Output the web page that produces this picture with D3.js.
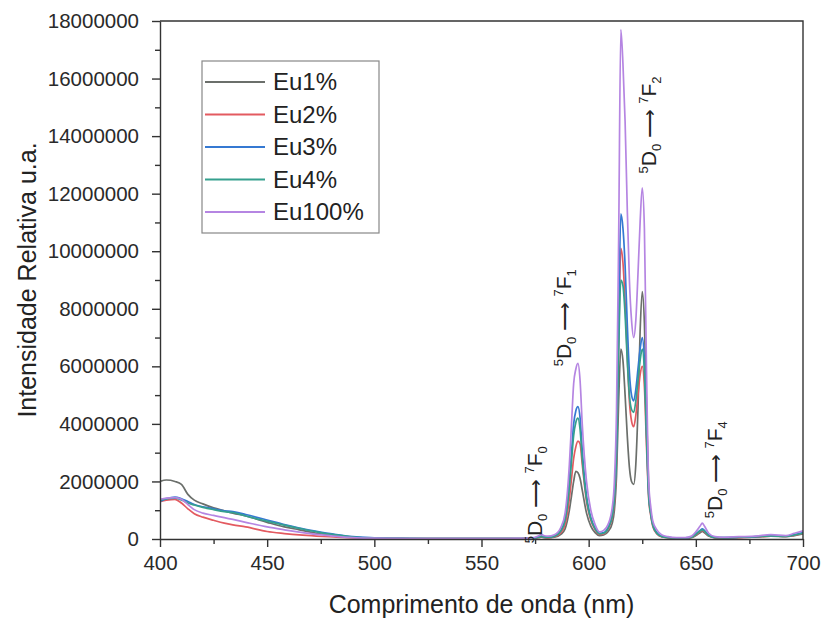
<!DOCTYPE html>
<html>
<head>
<meta charset="utf-8">
<script src="https://cdn.jsdelivr.net/npm/d3@7"></script>
<style>
	body { margin: 0; background: #fff; }
	svg { font-family: 'Liberation Sans', Arial, sans-serif; }
	.tick text { font-size: 20.5px; fill: #2a2a2a; }
	.tick line, .domain { stroke: #333; stroke-width: 1.4; }
</style>
</head>
<body>
<svg id="chart"></svg>
<script>
// wavelength (nm) and intensities (millions of counts)
const wavelength = [400, 403, 407, 410, 413, 416, 420, 425, 430, 434, 440, 450, 458, 465, 473, 481, 490, 500, 510, 525, 540, 555, 565,
	572, 575, 577, 578, 579, 581, 584, 587, 589, 591, 592, 593, 594, 595, 596, 597, 599, 601, 603, 605, 607, 609, 611, 612, 613, 614,
	615, 616, 617, 618, 619, 620, 621, 622, 623, 624, 625, 626, 627, 628, 629, 630, 632, 634, 637, 641, 645, 648, 650, 652, 653, 654,
	656, 659, 663, 670, 678, 685, 692, 696, 700]

const eu1 = [2.0, 2.05, 2.0, 1.9, 1.55, 1.35, 1.22, 1.08, 0.98, 0.9, 0.8, 0.58, 0.42, 0.32, 0.2, 0.12, 0.06, 0.03, 0.02, 0.01, 0.01, 0.01, 0.01,
	0.02, 0.03, 0.05, 0.06, 0.05, 0.04, 0.06, 0.16, 0.35, 1.0, 1.5, 2.0, 2.35, 2.3, 2.1, 1.7, 0.9, 0.45, 0.22, 0.12, 0.14, 0.25, 0.55, 1.0, 2.2, 4.8,
	6.6, 6.2, 5.0, 3.6, 2.5, 2.0, 1.9, 2.6, 4.5, 7.2, 8.6, 7.5, 4.5, 1.8, 0.9, 0.5, 0.18, 0.08, 0.05, 0.03, 0.03, 0.05, 0.12, 0.22, 0.26, 0.22,
	0.1, 0.04, 0.04, 0.05, 0.07, 0.1, 0.08, 0.12, 0.18]
const eu2 = [1.3, 1.35, 1.38, 1.25, 1.05, 0.88, 0.76, 0.65, 0.55, 0.49, 0.42, 0.26, 0.19, 0.14, 0.1, 0.07, 0.04, 0.02, 0.01, 0.01, 0.01, 0.01, 0.01,
	0.02, 0.03, 0.06, 0.08, 0.06, 0.05, 0.08, 0.22, 0.5, 1.4, 2.1, 2.8, 3.2, 3.4, 3.3, 2.6, 1.3, 0.65, 0.32, 0.16, 0.18, 0.34, 0.75, 1.3, 2.8, 6.8,
	10.1, 9.6, 8.2, 6.4, 4.8, 4.1, 3.9, 4.3, 5.0, 5.7, 6.0, 5.3, 3.2, 1.4, 0.8, 0.42, 0.17, 0.08, 0.05, 0.03, 0.03, 0.06, 0.15, 0.26, 0.3, 0.25,
	0.11, 0.05, 0.04, 0.05, 0.07, 0.1, 0.09, 0.13, 0.2]
const eu3 = [1.3, 1.4, 1.46, 1.4, 1.3, 1.2, 1.12, 1.05, 0.98, 0.95, 0.85, 0.66, 0.5, 0.38, 0.27, 0.17, 0.08, 0.04, 0.02, 0.01, 0.01, 0.01, 0.01,
	0.02, 0.04, 0.08, 0.1, 0.08, 0.07, 0.1, 0.3, 0.7, 2.0, 3.0, 4.0, 4.45, 4.6, 4.2, 3.1, 1.5, 0.75, 0.38, 0.2, 0.22, 0.4, 0.85, 1.5, 3.2, 7.5,
	11.3, 10.8, 9.5, 7.5, 5.8, 5.0, 4.8, 5.2, 5.9, 6.6, 7.0, 6.2, 3.8, 1.6, 0.9, 0.5, 0.2, 0.1, 0.06, 0.04, 0.04, 0.07, 0.18, 0.3, 0.35, 0.3,
	0.14, 0.06, 0.05, 0.06, 0.08, 0.12, 0.1, 0.15, 0.22]
const eu4 = [1.35, 1.4, 1.42, 1.36, 1.25, 1.18, 1.1, 1.02, 0.95, 0.92, 0.8, 0.62, 0.48, 0.37, 0.25, 0.15, 0.07, 0.03, 0.02, 0.01, 0.01, 0.01, 0.01,
	0.02, 0.04, 0.07, 0.09, 0.07, 0.06, 0.1, 0.28, 0.65, 1.8, 2.7, 3.6, 4.05, 4.2, 3.8, 2.8, 1.4, 0.7, 0.35, 0.18, 0.2, 0.36, 0.8, 1.4, 2.9, 6.5,
	9.0, 8.8, 7.8, 6.2, 5.0, 4.5, 4.4, 4.8, 5.5, 6.2, 6.6, 5.8, 3.5, 1.5, 0.85, 0.45, 0.18, 0.09, 0.05, 0.04, 0.04, 0.06, 0.16, 0.28, 0.32, 0.27,
	0.12, 0.05, 0.05, 0.06, 0.08, 0.11, 0.09, 0.14, 0.2]
const eu100 = [1.38, 1.42, 1.44, 1.38, 1.2, 1.02, 0.9, 0.82, 0.74, 0.68, 0.58, 0.42, 0.32, 0.24, 0.16, 0.1, 0.05, 0.03, 0.02, 0.01, 0.01, 0.01, 0.02,
	0.03, 0.06, 0.12, 0.16, 0.12, 0.1, 0.15, 0.4, 0.9, 2.6, 4.0, 5.4, 5.9, 6.1, 5.5, 4.0, 2.0, 1.0, 0.5, 0.25, 0.3, 0.5, 1.1, 2.0, 4.5, 10.5,
	17.7, 16.5, 14.5, 11.5, 9.0, 7.6, 7.0, 7.6, 9.2, 11.0, 12.2, 10.8, 5.8, 2.0, 1.1, 0.6, 0.3, 0.15, 0.08, 0.05, 0.05, 0.1, 0.25, 0.45, 0.55, 0.45,
	0.2, 0.08, 0.06, 0.08, 0.1, 0.15, 0.12, 0.2, 0.28]

const seriesNames = ['Eu1%', 'Eu2%', 'Eu3%', 'Eu4%', 'Eu100%']
const seriesValues = [eu1, eu2, eu3, eu4, eu100]
const colors = ['#6b6f6b', '#e35a60', '#3579d2', '#35a08e', '#b585e2']

const yTicks = [0, 2000000, 4000000, 6000000, 8000000, 10000000, 12000000, 14000000, 16000000, 18000000]
const xTicks = [400, 450, 500, 550, 600, 650, 700]

// 5D0 -> 7FJ transitions
const transitionJ = ['0', '1', '2', '4']

const width = 823
const height = 623
const margin = { top: 21, right: 20, bottom: 84, left: 160 }

const svg = d3.select('#chart').attr('width', width).attr('height', height)

const xScale = d3.scaleLinear().domain([400, 700]).range([margin.left, width - margin.right])
const yScale = d3.scaleLinear().domain([0, 18000000]).range([height - margin.bottom, margin.top])

svg.append('defs').append('clipPath').attr('id', 'clip')
	.append('rect')
	.attr('x', margin.left).attr('y', margin.top)
	.attr('width', width - margin.left - margin.right)
	.attr('height', height - margin.top - margin.bottom)

const line = d3.line()
	.curve(d3.curveMonotoneX)
	.x((d, i) => xScale(wavelength[i]))
	.y(d => yScale(d * 1e6))

svg.append('g')
	.attr('clip-path', 'url(#clip)')
	.selectAll('path')
	.data(seriesValues)
	.join('path')
	.attr('fill', 'none')
	.attr('stroke', (d, i) => colors[i])
	.attr('stroke-width', 1.7)
	.attr('d', line)

// minor ticks
svg.append('g')
	.attr('transform', `translate(0,${height - margin.bottom})`)
	.call(d3.axisBottom(xScale).tickValues(d3.range(425, 700, 50)).tickSize(5).tickFormat(''))
	.call(g => g.select('.domain').remove())
svg.append('g')
	.attr('transform', `translate(${margin.left},0)`)
	.call(d3.axisLeft(yScale).tickValues(d3.range(1000000, 18000000, 2000000)).tickSize(5).tickFormat(''))
	.call(g => g.select('.domain').remove())

// major axes
svg.append('g')
	.attr('transform', `translate(0,${height - margin.bottom})`)
	.call(d3.axisBottom(xScale).tickValues(xTicks).tickSize(8).tickSizeOuter(0).tickPadding(8))
svg.append('g')
	.attr('transform', `translate(${margin.left},0)`)
	.call(d3.axisLeft(yScale).tickValues(yTicks).tickSize(8).tickSizeOuter(0).tickPadding(13).tickFormat(d3.format('d')))

// frame top / right
svg.append('path')
	.attr('fill', 'none')
	.attr('stroke', '#333')
	.attr('stroke-width', 1.4)
	.attr('d', `M${margin.left},${margin.top}H${width - margin.right}V${height - margin.bottom}`)

// axis titles
svg.append('text')
	.attr('x', (margin.left + width - margin.right) / 2)
	.attr('y', 613)
	.attr('text-anchor', 'middle')
	.attr('font-size', 25)
	.attr('fill', '#222')
	.text('Comprimento de onda (nm)')

svg.append('text')
	.attr('transform', `translate(36,${(margin.top + height - margin.bottom) / 2}) rotate(-90)`)
	.attr('text-anchor', 'middle')
	.attr('font-size', 25)
	.attr('fill', '#222')
	.text('Intensidade Relativa u.a.')

// transition labels (rotated)
const labelPos = [
	{ nm: 578.3, v: -0.15 },
	{ nm: 591.8, v: 6.0 },
	{ nm: 631.6, v: 12.7 },
	{ nm: 662.2, v: 0.72 }
]
transitionJ.forEach((j, k) => {
	const p = labelPos[k]
	const t = svg.append('text')
		.attr('transform', `translate(${xScale(p.nm)},${yScale(p.v * 1e6)}) rotate(-90)`)
		.attr('font-size', 20)
		.attr('fill', '#222')
	const parts = [
		{ s: '5', dy: -8, fs: 13 }, { s: 'D', dy: 8, fs: 21 }, { s: '0', dy: 5, fs: 13 },
		{ s: ' \u27F6 ', dy: -5, fs: 20 },
		{ s: '7', dy: -8, fs: 13 }, { s: 'F', dy: 8, fs: 21 }, { s: j, dy: 5, fs: 13 }
	]
	parts.forEach(q => t.append('tspan').attr('dy', q.dy).attr('font-size', q.fs).text(q.s))
})

// legend
const legend = svg.append('g')
legend.append('rect')
	.attr('x', 202).attr('y', 61)
	.attr('width', 177).attr('height', 172)
	.attr('fill', '#fff')
	.attr('stroke', '#888')
	.attr('stroke-width', 1.2)

const items = legend.selectAll('g.item')
	.data(seriesNames)
	.join('g')
	.attr('class', 'item')
	.attr('transform', (d, i) => `translate(205,${82 + i * 32.5})`)
items.append('line')
	.attr('x1', 0).attr('x2', 60)
	.attr('stroke', (d, i) => colors[i])
	.attr('stroke-width', 2)
items.append('text')
	.attr('x', 68)
	.attr('y', 8)
	.attr('font-size', 24)
	.attr('fill', '#222')
	.text(d => d)
</script>
</body>
</html>
